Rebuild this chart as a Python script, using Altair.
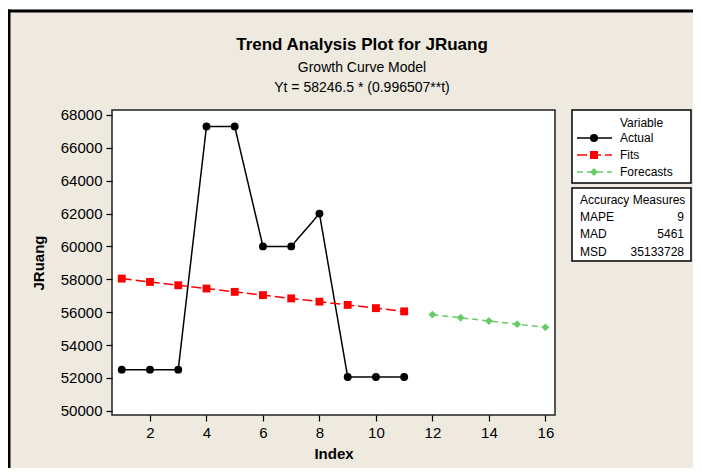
import altair as alt
import pandas as pd

# ---- data ----
actual_t = [1, 2, 3, 4, 5, 6, 7, 8, 9, 10, 11]
actual_v = [52500, 52500, 52500, 67300, 67300, 60000, 60000, 62000, 52050, 52050, 52050]
fits_t = [1, 2, 3, 4, 5, 6, 7, 8, 9, 10, 11]
fits_v = [58043, 57840, 57638, 57437, 57236, 57036, 56837, 56639, 56441, 56244, 56047]
fc_t = [12, 13, 14, 15, 16]
fc_v = [55851, 55656, 55462, 55268, 55075]
series_names = ["Actual", "Fits", "Forecasts"]
series_colors = ["#000000", "#FF0000", "#66CC66"]
series_shapes = ["circle", "square", "diamond"]
x_ticks = [2, 4, 6, 8, 10, 12, 14, 16]
y_ticks = [50000, 52000, 54000, 56000, 58000, 60000, 62000, 64000, 66000, 68000]
acc_labels = ["MAPE", "MAD", "MSD"]
acc_values = ["9", "5461", "35133728"]

title = "Trend Analysis Plot for JRuang"
sub1 = "Growth Curve Model"
sub2 = "Yt = 58246.5 * (0.996507**t)"

df = pd.concat([
    pd.DataFrame({"Index": actual_t, "JRuang": actual_v, "Variable": "Actual"}),
    pd.DataFrame({"Index": fits_t, "JRuang": fits_v, "Variable": "Fits"}),
    pd.DataFrame({"Index": fc_t, "JRuang": fc_v, "Variable": "Forecasts"}),
])

W, H = 443, 305
FONT = "Liberation Sans"

xs = alt.Scale(domain=[0.655, 16.34], nice=False, zero=False)
ys = alt.Scale(domain=[49740, 68304], nice=False, zero=False)
cs = alt.Scale(domain=series_names, range=series_colors)
ss = alt.Scale(domain=series_names, range=series_shapes)
ds = alt.Scale(domain=series_names, range=[[1, 0], [10, 4], [6, 4]])

X = alt.X("Index:Q", scale=xs,
          axis=alt.Axis(values=x_ticks, title="Index", grid=False, format="d",
                        titleY=43.5, titleBaseline="alphabetic"))
Y = alt.Y("JRuang:Q", scale=ys,
          axis=alt.Axis(values=y_ticks, title="JRuang", grid=False, format="d"))

base = alt.Chart(df)
lines = base.mark_line(strokeWidth=1.5).encode(
    x=X, y=Y,
    color=alt.Color("Variable:N", scale=cs, legend=None),
    strokeDash=alt.StrokeDash("Variable:N", scale=ds, legend=None),
    detail="Variable:N",
)
points = base.mark_point(filled=True, opacity=1, size=62).encode(
    x=X, y=Y,
    color=alt.Color("Variable:N", scale=cs, legend=None),
    shape=alt.Shape("Variable:N", scale=ss, legend=None),
)

# ---- decorations (pixel positions relative to plot area) ----
frame_df = pd.DataFrame({"k": [0]})
frame = alt.Chart(frame_df)
top_border = frame.mark_rule(color="black", strokeWidth=3).encode(
    x=alt.value(-104), x2=alt.value(581), y=alt.value(-99))
white_strip = frame.mark_rule(color="white", strokeWidth=2).encode(
    x=alt.value(-104), x2=alt.value(581), y=alt.value(-101.5))
left_border = frame.mark_rule(color="black", strokeWidth=3).encode(
    x=alt.value(-103), y=alt.value(-100.5), y2=alt.value(360))

t1 = frame.mark_text(font=FONT, fontSize=17, fontWeight="bold", align="center",
                     baseline="middle", color="black").encode(
    x=alt.value(250), y=alt.value(-65), text=alt.value(title))
t2 = frame.mark_text(font=FONT, fontSize=14, align="center", baseline="middle",
                     color="black").encode(
    x=alt.value(250), y=alt.value(-42), text=alt.value(sub1))
t3 = frame.mark_text(font=FONT, fontSize=14, align="center", baseline="middle",
                     color="black").encode(
    x=alt.value(250), y=alt.value(-22), text=alt.value(sub2))

box1 = frame.mark_rect(fill="white", stroke="black", strokeWidth=1.5).encode(
    x=alt.value(460), x2=alt.value(579), y=alt.value(0), y2=alt.value(73))
box2 = frame.mark_rect(fill="white", stroke="black", strokeWidth=1.5).encode(
    x=alt.value(460), x2=alt.value(579), y=alt.value(78), y2=alt.value(151))

leg_title = frame.mark_text(font=FONT, fontSize=12, align="center", baseline="middle",
                            color="black").encode(
    x=alt.value(529.5), y=alt.value(13), text=alt.value("Variable"))

leg_df = pd.DataFrame({"Variable": series_names, "ly": [28, 45, 62],
                       "lx1": [465] * 3, "lx2": [500] * 3, "lxm": [482] * 3,
                       "lxt": [508] * 3})
leg = alt.Chart(leg_df)
leg_lines = leg.mark_rule(strokeWidth=1.5).encode(
    x=alt.X("lx1:Q", scale=None), x2="lx2:Q", y=alt.Y("ly:Q", scale=None),
    color=alt.Color("Variable:N", scale=cs, legend=None),
    strokeDash=alt.StrokeDash("Variable:N", scale=ds, legend=None))
leg_pts = leg.mark_point(filled=True, opacity=1, size=65).encode(
    x=alt.X("lxm:Q", scale=None), y=alt.Y("ly:Q", scale=None),
    color=alt.Color("Variable:N", scale=cs, legend=None),
    shape=alt.Shape("Variable:N", scale=ss, legend=None))
leg_txt = leg.mark_text(font=FONT, fontSize=12, align="left", baseline="middle",
                        color="black").encode(
    x=alt.X("lxt:Q", scale=None), y=alt.Y("ly:Q", scale=None), text="Variable:N")

acc_df = pd.DataFrame({"lab": acc_labels, "val": acc_values, "ay": [107, 124, 142],
                       "axl": [468] * 3, "axr": [572] * 3})
acc = alt.Chart(acc_df)
acc_title = frame.mark_text(font=FONT, fontSize=12, align="left", baseline="middle",
                            color="black").encode(
    x=alt.value(468), y=alt.value(90), text=alt.value("Accuracy Measures"))
acc_lab = acc.mark_text(font=FONT, fontSize=12, align="left", baseline="middle",
                        color="black").encode(
    x=alt.X("axl:Q", scale=None), y=alt.Y("ay:Q", scale=None), text="lab:N")
acc_val = acc.mark_text(font=FONT, fontSize=12, align="right", baseline="middle",
                        color="black").encode(
    x=alt.X("axr:Q", scale=None), y=alt.Y("ay:Q", scale=None), text="val:N")

chart = alt.layer(
    lines, points,
    white_strip, top_border, left_border, t1, t2, t3,
    box1, box2, leg_title, leg_lines, leg_pts, leg_txt,
    acc_title, acc_lab, acc_val,
).properties(
    width=W, height=H,
    autosize=alt.AutoSizeParams(type="none"),
    padding={"left": 104, "top": 102, "right": 138, "bottom": 53},
).configure(
    background="#EEEAE0",
).configure_view(
    fill="white", stroke="#222222", strokeWidth=1.5,
).configure_axis(
    labelFont=FONT, labelFontSize=15, labelColor="black",
    titleFont=FONT, titleFontSize=15, titleFontWeight="bold", titleColor="black",
    tickColor="black", tickSize=6, tickWidth=1.2, domain=False,
    labelPadding=4,
).configure_axisY(titlePadding=14)

chart.save("out.html", embed_options={"renderer": "svg", "actions": False})
